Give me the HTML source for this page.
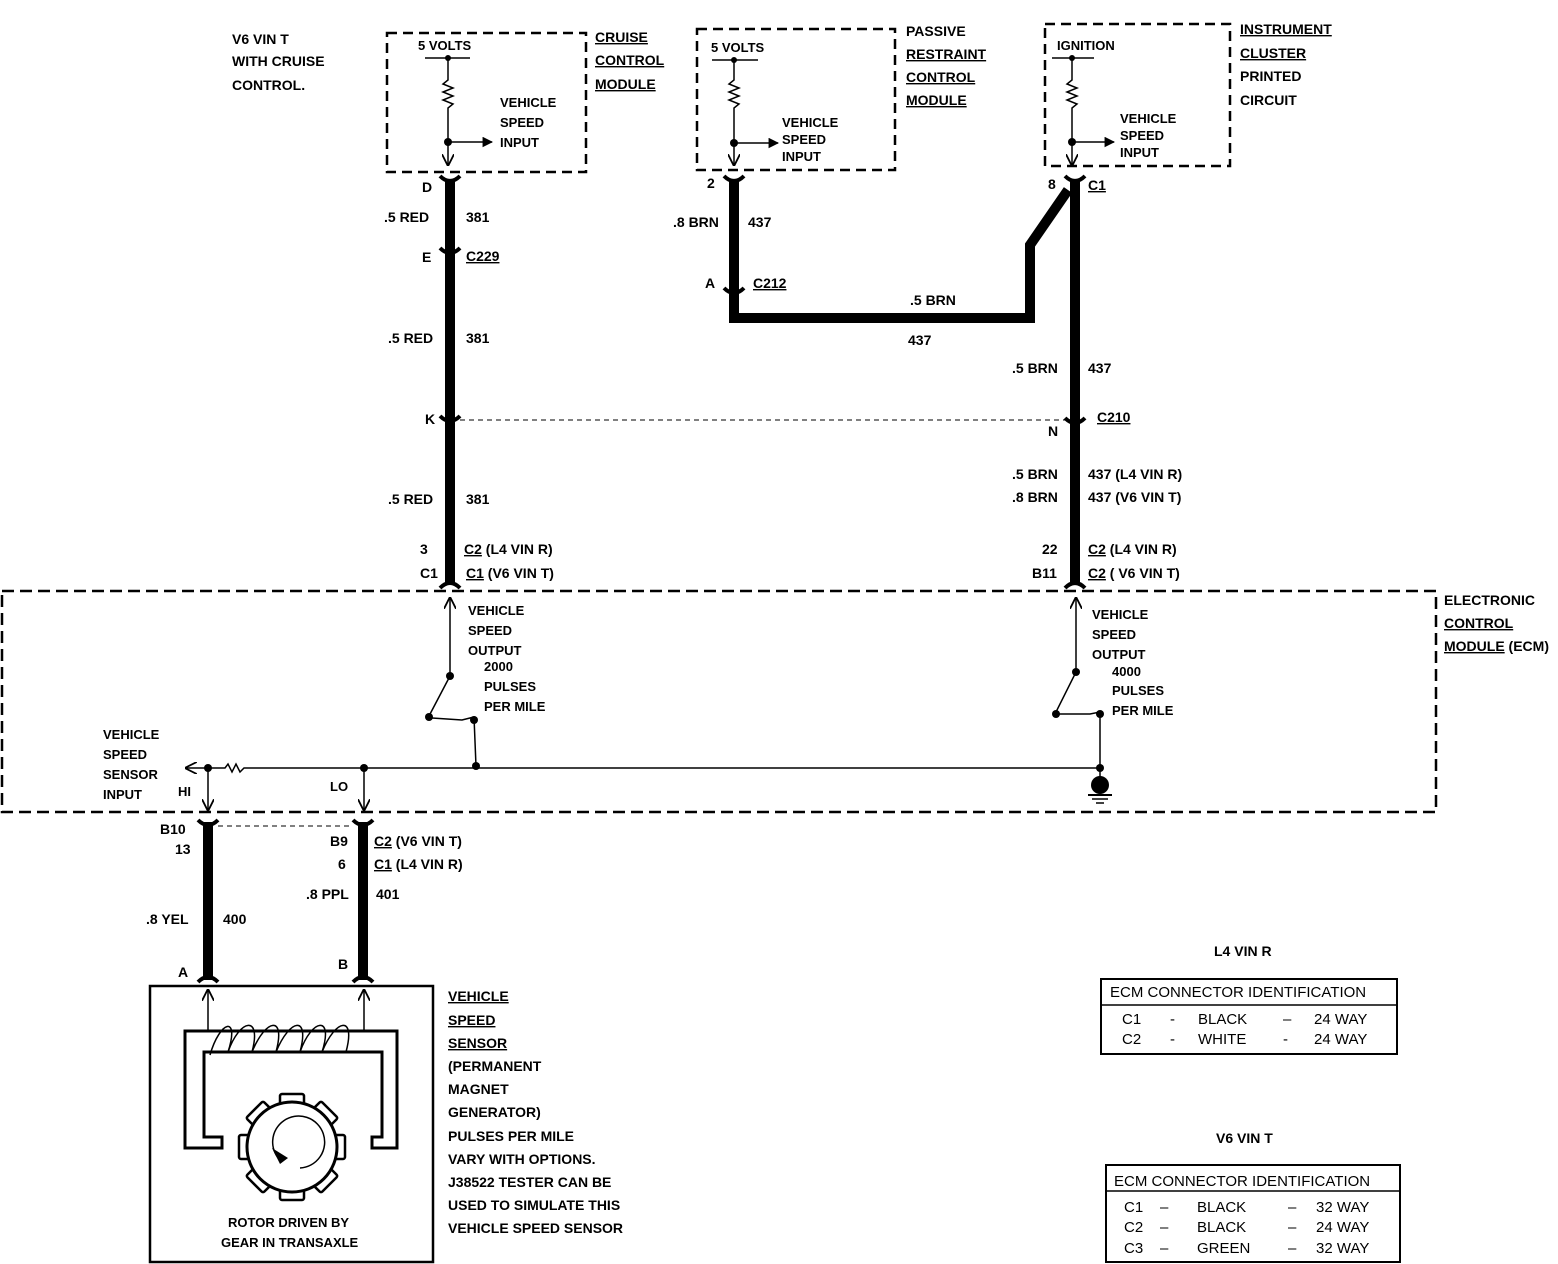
<!DOCTYPE html>
<html><head><meta charset="utf-8"><style>
html,body{margin:0;padding:0;background:#fff;}
svg{display:block;}
text{font-family:"Liberation Sans",sans-serif;font-weight:bold;font-size:14px;fill:#000;}
.s{font-size:13px;}
.n{font-weight:normal;font-size:15px;}
</style></head><body>
<svg width="1558" height="1264" viewBox="0 0 1558 1264" xmlns="http://www.w3.org/2000/svg">
<defs>
<marker id="ar" viewBox="0 0 10 10" refX="9" refY="5" markerWidth="8" markerHeight="8" orient="auto"><path d="M0,0 L10,5 L0,10" fill="none" stroke="#000" stroke-width="1.5"/></marker>
<marker id="af" viewBox="0 0 10 10" refX="9" refY="5" markerWidth="7" markerHeight="7" orient="auto"><path d="M0,0 L10,5 L0,10z" fill="#000"/></marker>
</defs>
<g fill="none" stroke="#000">
<rect x="387" y="33" width="199" height="139" stroke-width="2.5" stroke-dasharray="10,6"/>
<rect x="697" y="29" width="198" height="141" stroke-width="2.5" stroke-dasharray="10,6"/>
<rect x="1045" y="24" width="185" height="142" stroke-width="2.5" stroke-dasharray="10,6"/>
<rect x="2" y="591" width="1434" height="221" stroke-width="2.5" stroke-dasharray="12,6"/>
<g stroke-width="1.5">
<line x1="425" y1="58" x2="470" y2="58"/>
<polyline points="448,58 448,80 443,84 453,88 443,92 453,96 443,100 453,104 448,108 448,165" marker-end="url(#ar)"/>
<line x1="448" y1="142" x2="492" y2="142" marker-end="url(#af)"/>
<line x1="712" y1="60" x2="758" y2="60"/>
<polyline points="734,60 734,80 729,84 739,88 729,92 739,96 729,100 739,104 734,108 734,165" marker-end="url(#ar)"/>
<line x1="734" y1="143" x2="778" y2="143" marker-end="url(#af)"/>
<line x1="1052" y1="58" x2="1094" y2="58"/>
<polyline points="1072,58 1072,80 1067,84 1077,88 1067,92 1077,96 1067,100 1077,104 1072,108 1072,165" marker-end="url(#ar)"/>
<line x1="1072" y1="142" x2="1114" y2="142" marker-end="url(#af)"/>
</g>
<g stroke-width="10">
<line x1="450" y1="180" x2="450" y2="585"/>
<polyline points="734,180 734,318 1030,318 1030,245 1068,190"/>
<line x1="1075" y1="180" x2="1075" y2="585"/>
<line x1="208" y1="822" x2="208" y2="980"/>
<line x1="363" y1="822" x2="363" y2="980"/>
</g>
<g stroke-width="4">
<path d="M440,176 Q450,186 460,176"/><path d="M440,248 Q450,258 460,248"/><path d="M440,416 Q450,426 460,416"/>
<path d="M724,176 Q734,186 744,176"/><path d="M724,288 Q734,298 744,288"/>
<path d="M1065,176 Q1075,186 1085,176"/><path d="M1065,418 Q1075,428 1085,418"/>
<path d="M198,820 Q208,830 218,820"/><path d="M353,820 Q363,830 373,820"/>
<path d="M198,982 Q208,972 218,982"/><path d="M353,982 Q363,972 373,982"/>
<path d="M440,588 Q450,578 460,588"/><path d="M1065,588 Q1075,578 1085,588"/>
</g>
<line x1="460" y1="420" x2="1065" y2="420" stroke-width="1" stroke-dasharray="5,4"/>
<line x1="218" y1="826" x2="353" y2="826" stroke-width="1" stroke-dasharray="5,4"/>
<g stroke-width="1.5">
<line x1="450" y1="676" x2="450" y2="598" marker-end="url(#ar)"/>
<line x1="450" y1="676" x2="429" y2="716"/>
<path d="M432,718 L462,720 L474,717 L476,766"/>
<line x1="1076" y1="672" x2="1076" y2="598" marker-end="url(#ar)"/>
<line x1="1076" y1="672" x2="1056" y2="712"/>
<path d="M1059,714 L1090,714 L1100,712 L1100,780"/>
<line x1="208" y1="768" x2="186" y2="768" marker-end="url(#ar)"/>
<polyline points="208,768 225,768 228,764 232,772 236,764 240,772 244,768 1100,768"/>
<line x1="208" y1="768" x2="208" y2="810" marker-end="url(#ar)"/>
<line x1="364" y1="768" x2="364" y2="810" marker-end="url(#ar)"/>
<line x1="1088" y1="795" x2="1112" y2="795" stroke-width="2"/><line x1="1092" y1="799" x2="1108" y2="799"/><line x1="1096" y1="803" x2="1104" y2="803"/>
</g>
<rect x="150" y="986" width="283" height="276" stroke-width="2.5"/>
<g stroke-width="1.5">
<line x1="208" y1="1032" x2="208" y2="990" marker-end="url(#ar)"/>
<line x1="364" y1="1032" x2="364" y2="990" marker-end="url(#ar)"/>
</g>
<path d="M185,1031 H397 V1148 H372 V1137 H382 V1052 H204 V1137 H222 V1148 H185 Z" stroke-width="3"/>
<g stroke-width="1.5"><path d="M210,1055 C220,1020 240,1015 228,1052 C240,1018 262,1015 252,1052 C266,1018 286,1015 276,1052 C290,1018 310,1015 300,1052 C312,1018 334,1015 322,1052 C336,1018 356,1015 346,1052"/></g>
<g stroke-width="2.5">
<g transform="translate(292,1147)">
<rect x="-12" y="-53" width="24" height="10" rx="2"/>
<rect x="-12" y="-53" width="24" height="10" rx="2" transform="rotate(45)"/>
<rect x="-12" y="-53" width="24" height="10" rx="2" transform="rotate(90)"/>
<rect x="-12" y="-53" width="24" height="10" rx="2" transform="rotate(135)"/>
<rect x="-12" y="-53" width="24" height="10" rx="2" transform="rotate(180)"/>
<rect x="-12" y="-53" width="24" height="10" rx="2" transform="rotate(225)"/>
<rect x="-12" y="-53" width="24" height="10" rx="2" transform="rotate(270)"/>
<rect x="-12" y="-53" width="24" height="10" rx="2" transform="rotate(315)"/>
</g>
</g>
<circle cx="292" cy="1147" r="45" stroke-width="3" fill="#fff"/>
<path d="M282,1162 A26,26 0 1 1 300,1168" stroke-width="1.5"/>
<rect x="1101" y="979" width="296" height="75" stroke-width="2"/>
<line x1="1101" y1="1005" x2="1397" y2="1005" stroke-width="1.5"/>
<rect x="1106" y="1165" width="294" height="97" stroke-width="2"/>
<line x1="1106" y1="1191" x2="1400" y2="1191" stroke-width="1.5"/>
</g>
<g fill="#000">
<circle cx="448" cy="58" r="3"/><circle cx="448" cy="142" r="4"/>
<circle cx="734" cy="60" r="3"/><circle cx="734" cy="143" r="4"/>
<circle cx="1072" cy="58" r="3"/><circle cx="1072" cy="142" r="4"/>
<circle cx="450" cy="676" r="4"/><circle cx="429" cy="717" r="4"/><circle cx="474" cy="720" r="4"/>
<circle cx="1076" cy="672" r="4"/><circle cx="1056" cy="714" r="4"/><circle cx="1100" cy="714" r="4"/>
<circle cx="208" cy="768" r="4"/><circle cx="364" cy="768" r="4"/><circle cx="476" cy="766" r="4"/><circle cx="1100" cy="768" r="4"/>
<circle cx="1100" cy="785" r="9"/>
<path d="M272,1148 L288,1158 L280,1164 Z"/>
</g>
<text x="232" y="44">V6 VIN T</text><text x="232" y="66">WITH CRUISE</text><text x="232" y="90">CONTROL.</text>
<text x="418" y="50" class="s">5 VOLTS</text>
<text x="500" y="107" class="s">VEHICLE</text><text x="500" y="127" class="s">SPEED</text><text x="500" y="147" class="s">INPUT</text>
<text x="595" y="42" text-decoration="underline">CRUISE</text><text x="595" y="65" text-decoration="underline">CONTROL</text><text x="595" y="89" text-decoration="underline">MODULE</text>
<text x="711" y="52" class="s">5 VOLTS</text>
<text x="782" y="127" class="s">VEHICLE</text><text x="782" y="144" class="s">SPEED</text><text x="782" y="161" class="s">INPUT</text>
<text x="906" y="36">PASSIVE</text><text x="906" y="59" text-decoration="underline">RESTRAINT</text><text x="906" y="82" text-decoration="underline">CONTROL</text><text x="906" y="105" text-decoration="underline">MODULE</text>
<text x="1057" y="50" class="s">IGNITION</text>
<text x="1120" y="123" class="s">VEHICLE</text><text x="1120" y="140" class="s">SPEED</text><text x="1120" y="157" class="s">INPUT</text>
<text x="1240" y="34" text-decoration="underline">INSTRUMENT</text><text x="1240" y="58" text-decoration="underline">CLUSTER</text><text x="1240" y="81">PRINTED</text><text x="1240" y="105">CIRCUIT</text>
<text x="422" y="192">D</text><text x="384" y="222">.5 RED</text><text x="466" y="222">381</text>
<text x="422" y="262">E</text><text x="466" y="261" text-decoration="underline">C229</text>
<text x="388" y="343">.5 RED</text><text x="466" y="343">381</text>
<text x="425" y="424">K</text>
<text x="388" y="504">.5 RED</text><text x="466" y="504">381</text>
<text x="420" y="554">3</text><text x="464" y="554"><tspan text-decoration="underline">C2</tspan> (L4 VIN R)</text>
<text x="420" y="578">C1</text><text x="466" y="578"><tspan text-decoration="underline">C1</tspan> (V6 VIN T)</text>
<text x="707" y="188">2</text><text x="673" y="227">.8 BRN</text><text x="748" y="227">437</text>
<text x="705" y="288">A</text><text x="753" y="288" text-decoration="underline">C212</text>
<text x="910" y="305">.5 BRN</text><text x="908" y="345">437</text>
<text x="1048" y="189">8</text><text x="1088" y="190" text-decoration="underline">C1</text>
<text x="1012" y="373">.5 BRN</text><text x="1088" y="373">437</text>
<text x="1097" y="422" text-decoration="underline">C210</text><text x="1048" y="436">N</text>
<text x="1012" y="479">.5 BRN</text><text x="1088" y="479">437 (L4 VIN R)</text>
<text x="1012" y="502">.8 BRN</text><text x="1088" y="502">437 (V6 VIN T)</text>
<text x="1042" y="554">22</text><text x="1088" y="554"><tspan text-decoration="underline">C2</tspan> (L4 VIN R)</text>
<text x="1032" y="578">B11</text><text x="1088" y="578"><tspan text-decoration="underline">C2</tspan> ( V6 VIN T)</text>
<text x="1444" y="605">ELECTRONIC</text><text x="1444" y="628" text-decoration="underline">CONTROL</text><text x="1444" y="651"><tspan text-decoration="underline">MODULE</tspan> (ECM)</text>
<text x="468" y="615" class="s">VEHICLE</text><text x="468" y="635" class="s">SPEED</text><text x="468" y="655" class="s">OUTPUT</text><text x="484" y="671" class="s">2000</text><text x="484" y="691" class="s">PULSES</text><text x="484" y="711" class="s">PER MILE</text>
<text x="1092" y="619" class="s">VEHICLE</text><text x="1092" y="639" class="s">SPEED</text><text x="1092" y="659" class="s">OUTPUT</text><text x="1112" y="676" class="s">4000</text><text x="1112" y="695" class="s">PULSES</text><text x="1112" y="715" class="s">PER MILE</text>
<text x="103" y="739" class="s">VEHICLE</text><text x="103" y="759" class="s">SPEED</text><text x="103" y="779" class="s">SENSOR</text><text x="103" y="799" class="s">INPUT</text>
<text x="178" y="796" class="s">HI</text><text x="330" y="791" class="s">LO</text>
<text x="160" y="834">B10</text><text x="175" y="854">13</text>
<text x="330" y="846">B9</text><text x="338" y="869">6</text>
<text x="374" y="846"><tspan text-decoration="underline">C2</tspan> (V6 VIN T)</text>
<text x="374" y="869"><tspan text-decoration="underline">C1</tspan> (L4 VIN R)</text>
<text x="306" y="899">.8 PPL</text><text x="376" y="899">401</text>
<text x="146" y="924">.8 YEL</text><text x="223" y="924">400</text>
<text x="178" y="977">A</text><text x="338" y="969">B</text>
<text x="448" y="1001" text-decoration="underline">VEHICLE</text><text x="448" y="1025" text-decoration="underline">SPEED</text><text x="448" y="1048" text-decoration="underline">SENSOR</text>
<text x="448" y="1071">(PERMANENT</text><text x="448" y="1094">MAGNET</text><text x="448" y="1117">GENERATOR)</text><text x="448" y="1141">PULSES PER MILE</text><text x="448" y="1164">VARY WITH OPTIONS.</text><text x="448" y="1187">J38522 TESTER CAN BE</text><text x="448" y="1210">USED TO SIMULATE THIS</text><text x="448" y="1233">VEHICLE SPEED SENSOR</text>
<text x="228" y="1227" class="s">ROTOR DRIVEN BY</text><text x="221" y="1247" class="s">GEAR IN TRANSAXLE</text>
<text x="1214" y="956">L4 VIN R</text>
<text x="1110" y="997" class="n">ECM CONNECTOR IDENTIFICATION</text>
<text x="1122" y="1024" class="n">C1</text><text x="1170" y="1024" class="n">-</text><text x="1198" y="1024" class="n">BLACK</text><text x="1283" y="1024" class="n">–</text><text x="1314" y="1024" class="n">24 WAY</text>
<text x="1122" y="1044" class="n">C2</text><text x="1170" y="1044" class="n">-</text><text x="1198" y="1044" class="n">WHITE</text><text x="1283" y="1044" class="n">-</text><text x="1314" y="1044" class="n">24 WAY</text>
<text x="1216" y="1143">V6 VIN T</text>
<text x="1114" y="1186" class="n">ECM CONNECTOR IDENTIFICATION</text>
<text x="1124" y="1212" class="n">C1</text><text x="1160" y="1212" class="n">–</text><text x="1197" y="1212" class="n">BLACK</text><text x="1288" y="1212" class="n">–</text><text x="1316" y="1212" class="n">32 WAY</text>
<text x="1124" y="1232" class="n">C2</text><text x="1160" y="1232" class="n">–</text><text x="1197" y="1232" class="n">BLACK</text><text x="1288" y="1232" class="n">–</text><text x="1316" y="1232" class="n">24 WAY</text>
<text x="1124" y="1253" class="n">C3</text><text x="1160" y="1253" class="n">–</text><text x="1197" y="1253" class="n">GREEN</text><text x="1288" y="1253" class="n">–</text><text x="1316" y="1253" class="n">32 WAY</text>
</svg>
</body></html>
